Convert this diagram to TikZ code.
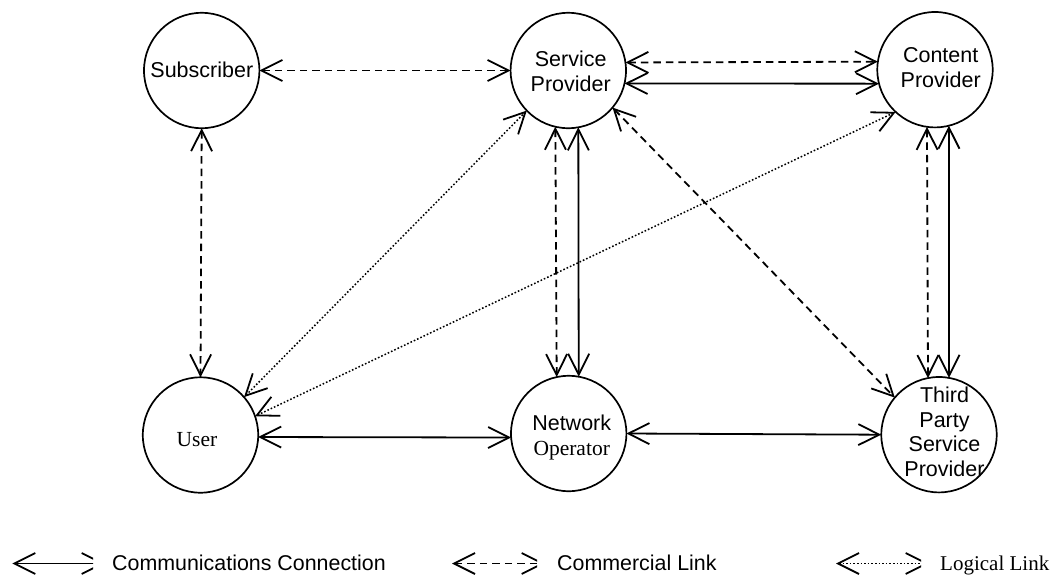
\documentclass[tikz,border=0pt]{standalone}
\usepackage{fontspec}
\setmainfont{Liberation Serif}
\setsansfont{Liberation Sans}
\usetikzlibrary{arrows.meta}
\tikzset{
  x=1pt,y=-1pt,
  station/.style={draw,circle,line width=1.7pt,minimum size=115.4pt,inner sep=0pt,outer sep=0pt},
  sanstext/.style={font=\fontsize{21.5}{24.6}\selectfont\sffamily,align=center,inner sep=0pt,anchor=base},
  serftext/.style={font=\fontsize{21.5}{24.6}\selectfont\rmfamily,align=center,inner sep=0pt,anchor=base},
  legendsans/.style={font=\fontsize{21.4}{24.6}\selectfont\sffamily,inner sep=0pt,anchor=base west},
  legendserf/.style={font=\fontsize{21}{24.6}\selectfont\rmfamily,inner sep=0pt,anchor=base west},
  link/.style={line width=1.8pt,{Straight Barb[length=21pt,width=21pt,line width=1.8pt]}-{Straight Barb[length=21pt,width=21pt,line width=1.8pt]}},
  commline/.style={link},
  commercial/.style={link,dash pattern=on 7.5pt off 5pt},
  logicalline/.style={link,dash pattern=on 1.6pt off 2pt,line width=1.5pt},
}
\begin{document}
\begin{tikzpicture}
\useasboundingbox (0,0) rectangle (1063,576);
\fill[white] (0,0) rectangle (1063,576);
\node[station] (sub) at (201.7,70.5) {};
\node[station] (sp) at (568.3,70.5) {};
\node[station] (cp) at (935,69.7) {};
\node[station] (user) at (200.5,435) {};
\node[station] (no) at (568.7,433.5) {};
\node[station] (tp) at (939,434.7) {};
\node[sanstext] (subT) at (201.8,77) {Subscriber};
\node[sanstext] (spA) at (570.7,66.7) {Service};
\node[sanstext] (spB) at (570.7,91.7) {Provider};
\node[sanstext] (cpA) at (940.7,62.7) {Content};
\node[sanstext] (cpB) at (940.7,87.7) {Provider};
\node[serftext] (userT) at (197,446.7) {User};
\node[sanstext] (noA) at (571.7,430.7) {Network};
\node[serftext] (noB) at (571.7,455) {Operator};
\node[sanstext] (tpA) at (944.5,402.7) {Third};
\node[sanstext] (tpB) at (944.5,427.3) {Party};
\node[sanstext] (tpC) at (944.5,451.7) {Service};
\node[sanstext] (tpD) at (944.5,476) {Provider};
\draw[commercial] (sub.east) -- (sp.west);
\draw[commercial] (sub.south) -- (user.north);
\draw[commercial] (sp.8.8) -- (cp.172);
\draw[commline] (sp.-13.5) -- (cp.194.3);
\draw[commercial] (sp.-103.3) -- (no.102.7);
\draw[commline] (sp.-80.6) -- (no.80.4);
\draw[commercial] (cp.262.3) -- (tp.101.6);
\draw[commline] (cp.284) -- (tp.80);
\draw[commercial] (sp.-40.7) -- (tp.140.4);
\draw[commline] (user.-2.7) -- (no.184.5);
\draw[commline] (no.east) -- (tp.west);
\draw[logicalline] (user.41.2) -- (sp.224.7);
\draw[logicalline] (user.19.8) -- (cp.227.5);
% legend
\coordinate (la) at (12.3,563.5);
\coordinate (lb) at (104.7,563.5);
\coordinate (lc) at (452,563.5);
\coordinate (ld) at (544.7,563.5);
\coordinate (le) at (836,563.5);
\coordinate (lf) at (928.7,563.5);
\begin{scope}
\clip (0,500) rectangle (93,576);
\draw[commline] (la) -- (lb);
\end{scope}
\begin{scope}
\clip (440,500) rectangle (537,576);
\draw[commercial] (lc) -- (ld);
\end{scope}
\begin{scope}
\clip (825,500) rectangle (921,576);
\draw[logicalline] (le) -- (lf);
\end{scope}
\node[legendsans] (ltA) at (112,570) {Communications Connection};
\node[legendsans] (ltB) at (557,570) {Commercial Link};
\node[legendserf] (ltC) at (940,570) {Logical Link};
\end{tikzpicture}
\end{document}
